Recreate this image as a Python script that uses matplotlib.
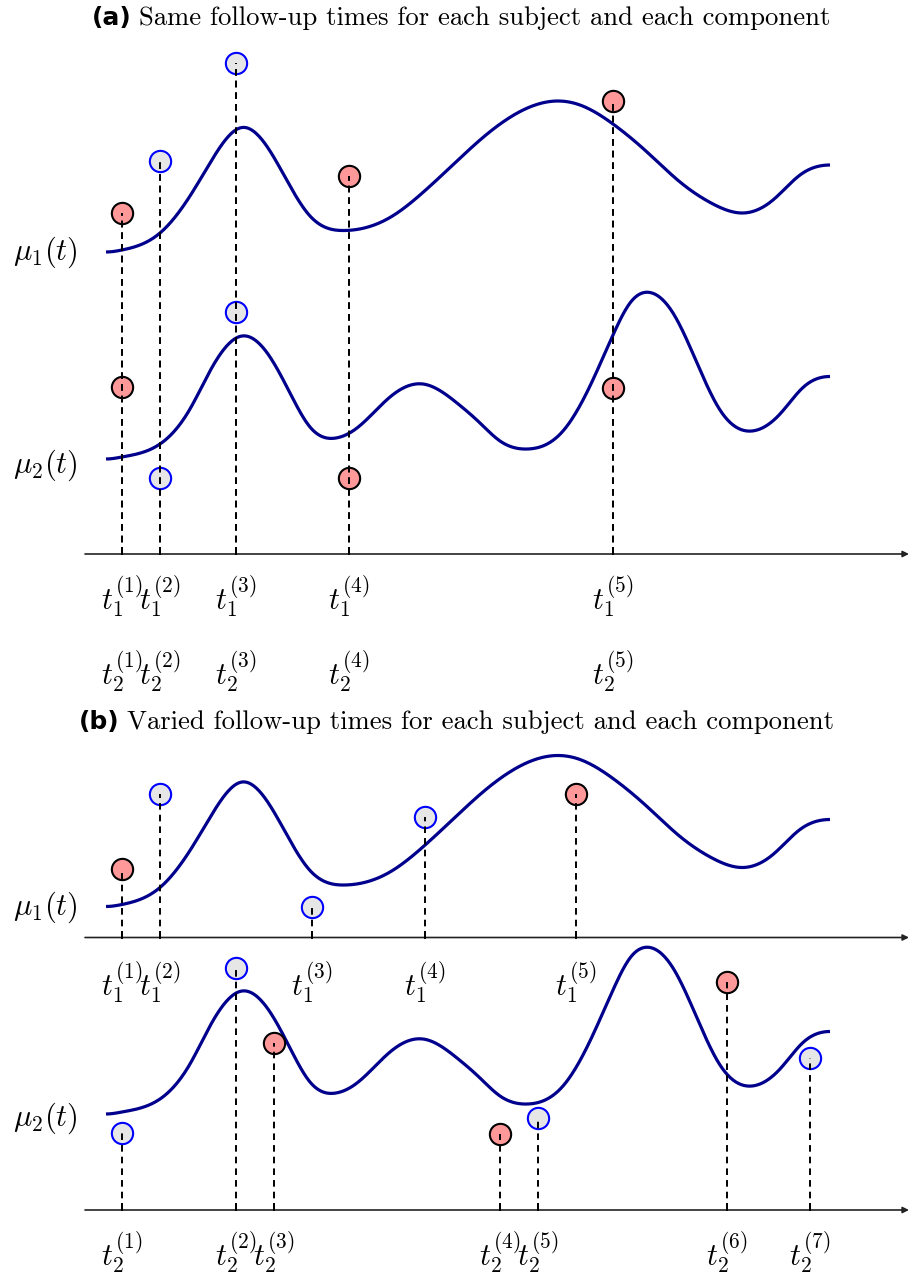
import numpy as np
import matplotlib.pyplot as plt

plt.rcParams['mathtext.fontset'] = 'cm'

# mean curves: time grid and height above the start of the curve
mu1_t = [106, 122, 160, 190, 210, 242, 270, 290, 310, 345, 390, 424, 457, 480,
         513, 558, 580, 613, 647, 680, 713, 743, 773, 800, 830]
mu1_h = [0, 2, 19, 56, 89, 124.5, 101, 66, 36, 21.5, 34.5, 60.5, 91, 112,
         136.5, 151, 147, 128, 100, 70, 48, 39, 52, 77, 87]
mu2_t = [106, 122, 160, 190, 210, 242, 270, 290, 310, 336, 357, 390, 423, 457,
         480, 500, 528, 563, 590, 613, 630, 650, 673, 697, 720, 752, 780, 803, 830]
mu2_h = [0, 2, 15, 50, 88, 123, 102, 66, 32, 21, 31, 62, 75, 56,
         36, 18, 10, 28, 73, 124, 156, 166.5, 146, 96, 49, 28, 45, 71.5, 82.5]

# (a) same follow-up times, observations = height above the time axis
times_a = [122, 160, 236, 349, 613]
obs_a1 = [341, 393, 491, 378, 453.5]
obs_a2 = [167, 76, 242, 76, 166.5]
col_a1 = ['r', 'b', 'b', 'r', 'r']
col_a2 = ['r', 'b', 'b', 'r', 'r']

# (b) varied follow-up times
times_b1 = [122, 160, 312, 425, 576]
obs_b1 = [68.5, 143.5, 30.5, 120.5, 143.5]
col_b1 = ['r', 'b', 'b', 'b', 'r']
times_b2 = [122, 236, 274, 500, 538, 727, 810]
obs_b2 = [77, 242, 167, 76, 92, 228, 152]
col_b2 = ['b', 'b', 'r', 'r', 'b', 'r', 'b']

NAVY = '#00008c'
FILL = {'r': '#ff9999', 'b': '#e6e6e6'}
EDGE = {'r': 'black', 'b': '#0000ff'}
FS = 22


def smooth(t, h, n=800):
    """ spline cubique (pentes nulles aux bords) passant par les points lus """
    t = np.asarray(t, float)
    y = np.asarray(h, float)
    n_k = len(t)
    d = np.diff(t)
    A = np.zeros((n_k, n_k))
    r = np.zeros(n_k)
    A[0, 0], A[0, 1] = 2 * d[0], d[0]
    r[0] = 6 * ((y[1] - y[0]) / d[0])
    A[-1, -2], A[-1, -1] = d[-1], 2 * d[-1]
    r[-1] = -6 * ((y[-1] - y[-2]) / d[-1])
    for i in range(1, n_k - 1):
        A[i, i - 1] = d[i - 1]
        A[i, i] = 2 * (d[i - 1] + d[i])
        A[i, i + 1] = d[i]
        r[i] = 6 * ((y[i + 1] - y[i]) / d[i] - (y[i] - y[i - 1]) / d[i - 1])
    M = np.linalg.solve(A, r)
    x = np.linspace(t[0], t[-1], n)
    i = np.clip(np.searchsorted(t, x) - 1, 0, n_k - 2)
    hi = d[i]
    a = t[i + 1] - x
    b = x - t[i]
    s = (M[i] * a**3 + M[i + 1] * b**3) / (6 * hi) \
        + (y[i] / hi - M[i] * hi / 6) * a + (y[i + 1] / hi - M[i + 1] * hi / 6) * b
    return x, s


def time_axis(ax, y0):
    ax.annotate('', xy=(909, y0), xytext=(85, y0),
                arrowprops=dict(arrowstyle='-|>', lw=1.2, color='#222222',
                                mutation_scale=9, shrinkA=0, shrinkB=0))


def curve(ax, t, h, y0, base):
    x, y = smooth(t, h)
    ax.plot(x, y0 - base - y, color=NAVY, lw=2.3, zorder=3,
            solid_capstyle='butt')


def obs(ax, times, vals, cols, y0, top=None):
    for k, (t, v, c) in enumerate(zip(times, vals, cols)):
        ax.scatter(t, y0 - v, s=235, facecolor=FILL[c], edgecolor=EDGE[c],
                   linewidth=1.5, zorder=4)
        h = v if top is None else top[k]
        ax.plot([t, t], [y0, y0 - h], color='black', lw=1.4,
                linestyle=(0, (3.4, 2.6)), zorder=5)
        ax.plot([t, t], [y0, y0 - 6], color='black', lw=1.4, zorder=5)


def title(ax, x, y, tag, txt):
    ta = ax.text(x, y, tag, fontsize=18, fontweight='bold',
                 family='DejaVu Sans', va='center', ha='left')
    ax.annotate(txt, xy=(1, 0), xycoords=ta, xytext=(5, 0),
                textcoords='offset points', fontsize=19.2, family='cmr10',
                va='bottom', ha='left')


fig = plt.figure(figsize=(9.09, 12.77), dpi=100)
ax = fig.add_axes([0, 0, 1, 1])
ax.set_xlim(0, 909)
ax.set_ylim(1277, 0)
ax.axis('off')

# ---- (a)
YA = 554
title(ax, 92, 18, '(a)', 'Same follow-up times for each subject and each component')
time_axis(ax, YA)
curve(ax, mu1_t, mu1_h, YA, 302)
curve(ax, mu2_t, mu2_h, YA, 95)
top_a = [max(u, v) for u, v in zip(obs_a1, obs_a2)]
obs(ax, times_a, obs_a1, col_a1, YA, top_a)
obs(ax, times_a, obs_a2, col_a2, YA, top_a)
ax.text(45, 252, r'$\mu_1(t)$', fontsize=FS, ha='center', va='center')
ax.text(45, 465, r'$\mu_2(t)$', fontsize=FS, ha='center', va='center')
for k, t in enumerate(times_a):
    ax.text(t, 597, r'$t_1^{(%d)}$' % (k + 1), fontsize=FS, ha='center', va='center')
    ax.text(t, 672, r'$t_2^{(%d)}$' % (k + 1), fontsize=FS, ha='center', va='center')

# ---- (b)
YB1 = 937.5
YB2 = 1210
title(ax, 79, 722, '(b)', 'Varied follow-up times for each subject and each component')
time_axis(ax, YB1)
time_axis(ax, YB2)
curve(ax, mu1_t, mu1_h, YB1, 31)
curve(ax, mu2_t, mu2_h, YB2, 96)
obs(ax, times_b1, obs_b1, col_b1, YB1)
obs(ax, times_b2, obs_b2, col_b2, YB2)
ax.text(45, 907, r'$\mu_1(t)$', fontsize=FS, ha='center', va='center')
ax.text(45, 1118, r'$\mu_2(t)$', fontsize=FS, ha='center', va='center')
for k, t in enumerate(times_b1):
    ax.text(t, 983, r'$t_1^{(%d)}$' % (k + 1), fontsize=FS, ha='center', va='center')
for k, t in enumerate(times_b2):
    ax.text(t, 1253, r'$t_2^{(%d)}$' % (k + 1), fontsize=FS, ha='center', va='center')

fig.savefig('out.png', dpi=100)
